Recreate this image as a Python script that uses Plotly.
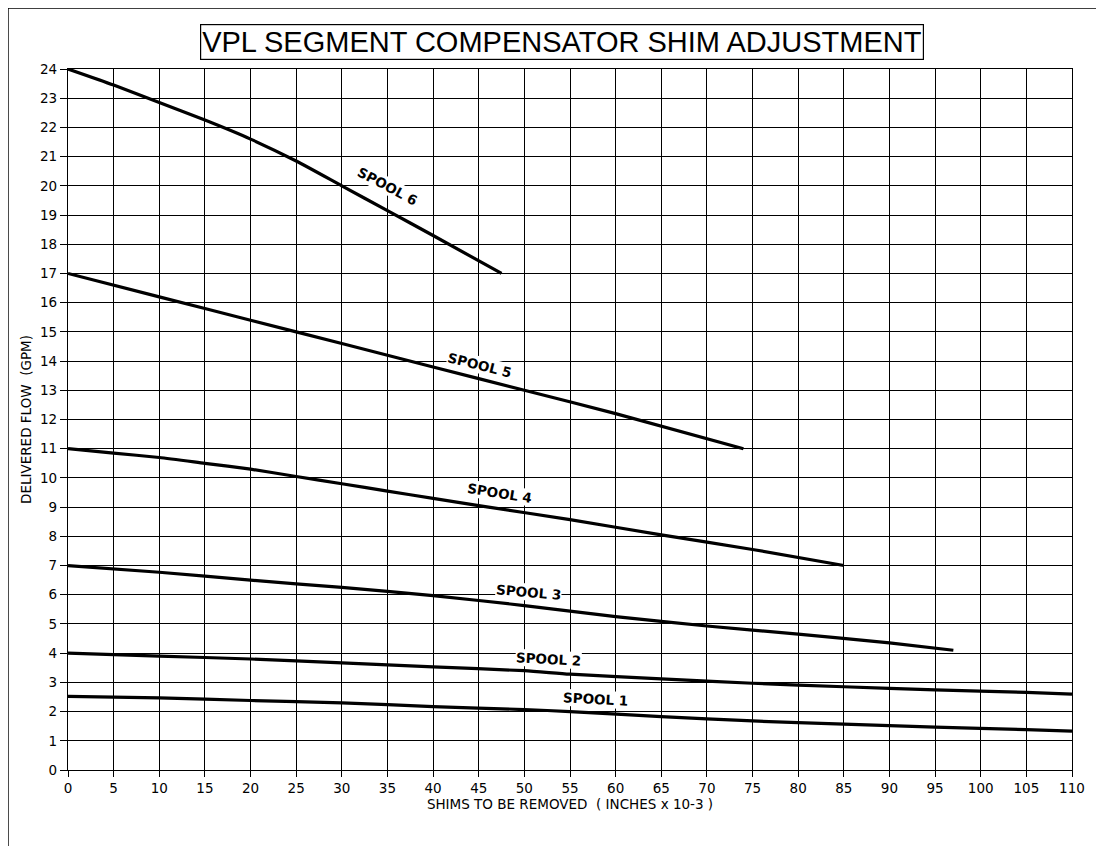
import plotly.graph_objects as go

# ---- data ----
spool6_x = [0, 5, 10, 15, 20, 25, 30, 35, 40, 47.5]
spool6_y = [24, 23.45, 22.85, 22.25, 21.6, 20.85, 20.0, 19.15, 18.3, 17.0]

spool5_x = [0, 10, 20, 30, 40, 50, 60, 74]
spool5_y = [17, 16.2, 15.4, 14.6, 13.8, 13.0, 12.2, 11.0]

spool4_x = [0, 5, 10, 15, 20, 25, 30, 35, 40, 45, 55, 65, 75, 85]
spool4_y = [11, 10.85, 10.7, 10.5, 10.3, 10.05, 9.8, 9.55, 9.3, 9.05, 8.57, 8.05, 7.55, 7.0]

spool3_x = [0, 10, 20, 30, 40, 50, 60, 70, 80, 90, 97]
spool3_y = [7, 6.77, 6.5, 6.25, 5.97, 5.63, 5.25, 4.93, 4.65, 4.35, 4.1]

spool2_x = [0, 10, 20, 30, 40, 50, 55, 65, 75, 85, 95, 105, 110]
spool2_y = [4, 3.9, 3.8, 3.67, 3.53, 3.4, 3.28, 3.12, 2.97, 2.85, 2.74, 2.66, 2.6]

spool1_x = [0, 10, 20, 30, 40, 50, 55, 65, 75, 85, 95, 105, 110]
spool1_y = [2.52, 2.47, 2.38, 2.3, 2.17, 2.07, 2.0, 1.83, 1.68, 1.57, 1.47, 1.38, 1.33]

label_names = ["SPOOL 6", "SPOOL 5", "SPOOL 4", "SPOOL 3", "SPOOL 2", "SPOOL 1"]
label_x = [35.0, 45.1, 47.3, 50.4, 52.6, 57.8]
label_y = [20.0, 13.85, 9.47, 6.08, 3.8, 2.42]
label_angle = [28, 14, 9, 5, 3, 3]

x_ticks = list(range(0, 111, 5))
y_ticks = list(range(0, 25, 1))

title_text = "VPL SEGMENT COMPENSATOR SHIM ADJUSTMENT"
x_title = "SHIMS TO BE REMOVED  ( INCHES x 10-3 )"
y_title = "DELIVERED FLOW  (GPM)"

fig = go.Figure()
for xs, ys in [(spool6_x, spool6_y), (spool5_x, spool5_y), (spool4_x, spool4_y),
               (spool3_x, spool3_y), (spool2_x, spool2_y), (spool1_x, spool1_y)]:
    fig.add_trace(go.Scatter(x=xs, y=ys, mode="lines",
                             line=dict(color="black", width=3.2, shape="spline", smoothing=0.6),
                             showlegend=False, hoverinfo="skip"))

label_font = dict(family="'DejaVu Sans', sans-serif", size=13.5, color="black")
for name, lx, ly, ang in zip(label_names, label_x, label_y, label_angle):
    fig.add_annotation(x=lx, y=ly, xref="x", yref="y", text="<b>" + name + "</b>",
                       showarrow=False, textangle=ang, bgcolor="white",
                       font=label_font, borderpad=0)

# Title box
fig.add_annotation(x=0.492, y=1.0, xref="paper", yref="paper", yanchor="middle", xanchor="center",
                   yshift=27,
                   text=title_text, showarrow=False,
                   font=dict(family="'Liberation Sans Narrow', 'Arial Narrow', 'Liberation Sans', sans-serif",
                             size=29, color="black"),
                   bordercolor="black", borderwidth=1.2, borderpad=1, bgcolor="white")

# Outer frame lines (left and top)
fig.add_shape(type="line", xref="paper", yref="paper", x0=-0.0598, x1=-0.0598, y0=-0.11, y1=1.087,
              line=dict(color="black", width=1.5))
fig.add_shape(type="line", xref="paper", yref="paper", x0=-0.0598, x1=1.04, y0=1.087, y1=1.087,
              line=dict(color="black", width=1.5))

tick_font = dict(family="'DejaVu Sans', sans-serif", size=13.5, color="black")
title_font = dict(family="'DejaVu Sans', sans-serif", size=13.5, color="black")
fig.update_xaxes(range=[0, 110], tickvals=x_ticks, ticktext=[str(v) for v in x_ticks],
                 showgrid=True, gridcolor="black", gridwidth=1.3,
                 zeroline=False, showline=True, linecolor="black", linewidth=1.3,
                 ticks="outside", ticklen=6, tickcolor="black", tickwidth=1.2,
                 tickfont=tick_font,
                 title=dict(text=x_title, font=title_font, standoff=2),
                 mirror=True)
fig.update_yaxes(range=[0, 24], tickvals=y_ticks, ticktext=[str(v) for v in y_ticks],
                 showgrid=True, gridcolor="black", gridwidth=1.3,
                 zeroline=False, showline=True, linecolor="black", linewidth=1.3,
                 ticks="outside", ticklen=7, tickcolor="black", tickwidth=1.2,
                 tickfont=tick_font,
                 title=dict(text=y_title, font=title_font, standoff=5),
                 mirror=True)

fig.update_layout(width=1096, height=838,
                  margin=dict(l=60, r=32, t=61, b=76, autoexpand=False),
                  plot_bgcolor="white", paper_bgcolor="white")

fig.write_html("out.html")
